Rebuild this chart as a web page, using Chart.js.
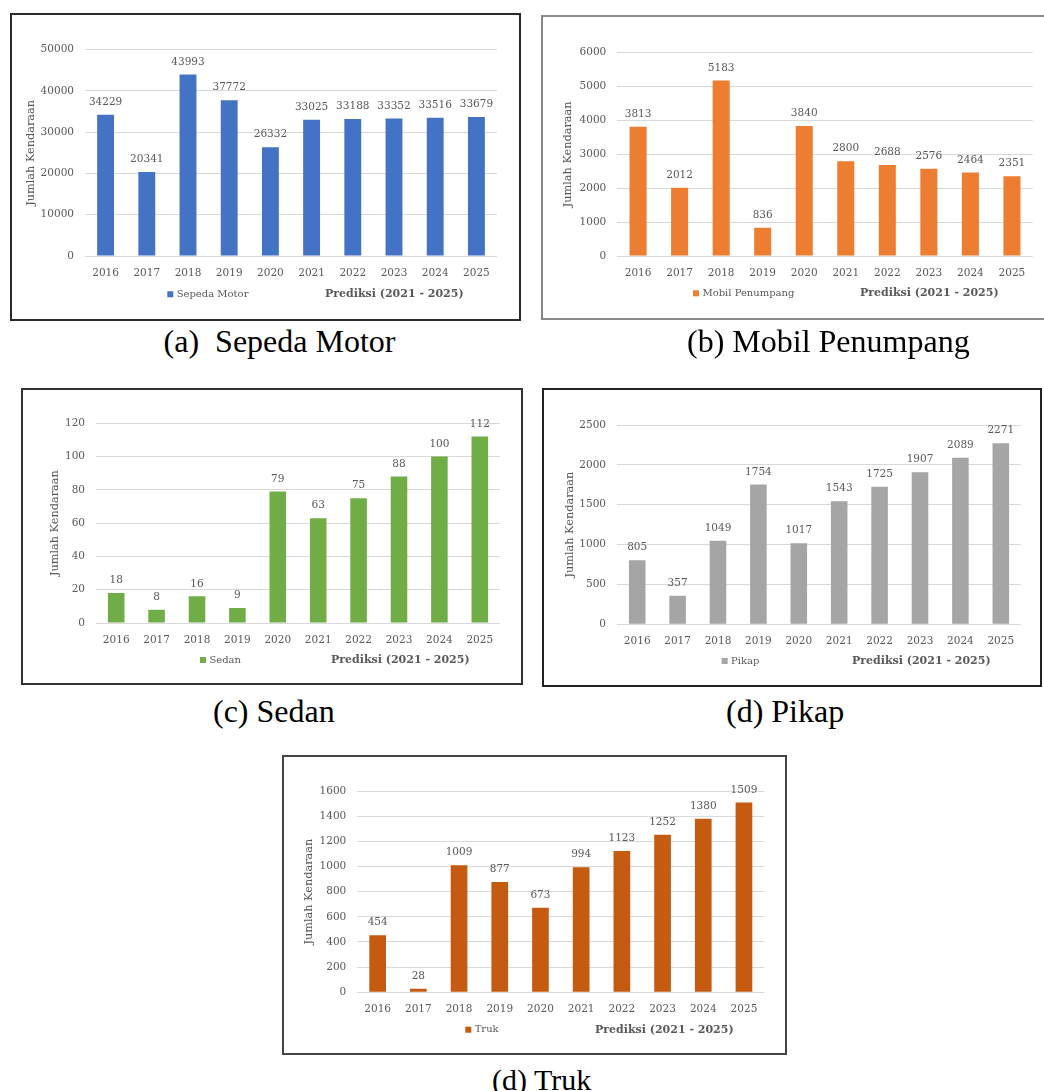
<!DOCTYPE html>
<html>
<head>
<meta charset="utf-8">
<script src="https://cdn.jsdelivr.net/npm/chart.js@4.4.0/dist/chart.umd.min.js"></script>
<style>
  html, body { margin: 0; padding: 0; background: #fff; }
  body { width: 1044px; height: 1091px; position: relative; overflow: hidden; }
  .panel { position: absolute; }
  .panel canvas { position: absolute; left: 0; top: 0; }
  .frame { position: absolute; left: 0; top: 0; box-sizing: border-box; pointer-events: none; }
  .caption { position: absolute; font-family: "Liberation Serif", "Times New Roman", serif; color: #000; white-space: pre; line-height: 1; }
</style>
</head>
<body>
<script>
// Vehicle counts per year (2021-2025 are forecast values)
const years = ['2016', '2017', '2018', '2019', '2020', '2021', '2022', '2023', '2024', '2025'];
const sepedaMotor = [34229, 20341, 43993, 37772, 26332, 33025, 33188, 33352, 33516, 33679];
const mobilPenumpang = [3813, 2012, 5183, 836, 3840, 2800, 2688, 2576, 2464, 2351];
const sedan = [18, 8, 16, 9, 79, 63, 75, 88, 100, 112];
const pikap = [805, 357, 1049, 1754, 1017, 1543, 1725, 1907, 2089, 2271];
const truk = [454, 28, 1009, 877, 673, 994, 1123, 1252, 1380, 1509];

const seriesNames = ['Sepeda Motor', 'Mobil Penumpang', 'Sedan', 'Pikap', 'Truk'];
const seriesValues = [sepedaMotor, mobilPenumpang, sedan, pikap, truk];
const axisMax = [50000, 6000, 120, 2500, 1600];
const axisStep = [10000, 1000, 20, 500, 200];
const captions = ['(a)  Sepeda Motor', '(b) Mobil Penumpang', '(c) Sedan', '(d) Pikap', '(d) Truk'];
const axisTitle = 'Jumlah Kendaraan';
const forecastNote = 'Prediksi (2021 - 2025)';

const barColors = ['#4472C4', '#ED7D31', '#70AD47', '#A5A5A5', '#C55A11'];
const TEXT = '#595959';
const FONT = '"DejaVu Serif", serif';

// Page placement of each panel: frame box [x, y, w, h], plot area [left, right, top, bottom]
const panelLayout = [
  { box: [10, 13, 511, 308],  area: [85, 497, 49.7, 256],      titleX: 30.7,  legendX: 167.3, noteX: 325, legendY: 294.3, frame: '#2b2b2b' },
  { box: [541, 15, 515, 305], area: [617.3, 1032.7, 52.7, 256], titleX: 568.3, legendX: 693,   noteX: 860, legendY: 293.3, frame: '#8a8a8a' },
  { box: [21, 388, 502, 297], area: [96, 500, 423.3, 623],     titleX: 55,    legendX: 200,   noteX: 331, legendY: 660,   frame: '#333333' },
  { box: [542, 388, 500, 299], area: [617, 1021, 425, 624.3],  titleX: 570,   legendX: 721.7, noteX: 852, legendY: 661,   frame: '#222222' },
  { box: [282, 755, 505, 300], area: [357.3, 764.3, 791, 992.3], titleX: 309.3, legendX: 465.3, noteX: 595, legendY: 1029.7, frame: '#444444' }
];
const captionLayout = [
  { x: 163.6, y: 325, size: 32 },
  { x: 687,   y: 325, size: 32 },
  { x: 213,   y: 695, size: 32 },
  { x: 726,   y: 695, size: 32 },
  { x: 492,   y: 1065, size: 30 }
];

// Value printed above every bar
const barValueLabels = {
  id: 'barValueLabels',
  afterDatasetsDraw(chart) {
    const ctx = chart.ctx;
    const ds = chart.data.datasets[0];
    ctx.save();
    ctx.font = '10.5px ' + FONT;
    ctx.fillStyle = TEXT;
    ctx.textAlign = 'center';
    ctx.textBaseline = 'middle';
    chart.getDatasetMeta(0).data.forEach((bar, i) => {
      ctx.fillText(String(ds.data[i]), bar.x, bar.y - 12.6);
    });
    ctx.restore();
  }
};

// Legend swatch + series name, and the bold forecast note on the same row
const legendRow = {
  id: 'legendRow',
  afterDraw(chart, args, opts) {
    const ctx = chart.ctx;
    const ds = chart.data.datasets[0];
    ctx.save();
    ctx.fillStyle = ds.backgroundColor;
    ctx.fillRect(opts.x, opts.y - 3, 6, 6);
    ctx.fillStyle = TEXT;
    ctx.textAlign = 'left';
    ctx.textBaseline = 'middle';
    ctx.font = '10px ' + FONT;
    ctx.fillText(ds.label, opts.x + 9.4, opts.y);
    ctx.font = 'bold 11px ' + FONT;
    ctx.fillText(opts.note, opts.noteX, opts.y);
    ctx.restore();
  }
};

panelLayout.forEach((p, k) => {
  const [bx, by, bw, bh] = p.box;
  const [al, ar, at, ab] = p.area.map((v, j) => v - (j < 2 ? bx : by));
  const titleSize = 11.3;
  const titleHalf = titleSize * 1.2 / 2;
  const padL = (p.titleX - bx) - titleHalf;
  const yWidth = al - padL;
  const xHeight = bh - ab;

  const wrap = document.createElement('div');
  wrap.className = 'panel';
  wrap.style.left = bx + 'px';
  wrap.style.top = by + 'px';
  wrap.style.width = bw + 'px';
  wrap.style.height = bh + 'px';
  const canvas = document.createElement('canvas');
  canvas.width = bw;
  canvas.height = bh;
  canvas.style.width = bw + 'px';
  canvas.style.height = bh + 'px';
  wrap.appendChild(canvas);
  const frame = document.createElement('div');
  frame.className = 'frame';
  frame.style.width = bw + 'px';
  frame.style.height = bh + 'px';
  frame.style.border = '2px solid ' + p.frame;
  wrap.appendChild(frame);
  document.body.appendChild(wrap);

  new Chart(canvas, {
    type: 'bar',
    data: {
      labels: years,
      datasets: [{
        label: seriesNames[k],
        data: seriesValues[k],
        backgroundColor: barColors[k],
        barPercentage: 0.41,
        categoryPercentage: 1
      }]
    },
    options: {
      responsive: false,
      animation: false,
      devicePixelRatio: 1,
      layout: { padding: { left: padL, right: bw - ar, top: at, bottom: 0 } },
      plugins: {
        legend: { display: false },
        tooltip: { enabled: false },
        legendRow: { x: p.legendX - bx, y: p.legendY - by, noteX: p.noteX - bx, note: forecastNote }
      },
      scales: {
        x: {
          grid: { display: false },
          border: { display: false },
          ticks: { color: TEXT, font: { family: FONT, size: 10.5 }, padding: 3, maxRotation: 0, autoSkip: false },
          afterFit(s) { s.height = xHeight; }
        },
        y: {
          min: 0,
          max: axisMax[k],
          ticks: {
            stepSize: axisStep[k],
            color: TEXT,
            font: { family: FONT, size: 10.5 },
            padding: 11,
            callback: (v) => String(v)
          },
          grid: { color: '#d9d9d9', lineWidth: 1, drawTicks: false },
          border: { display: false },
          title: { display: true, text: axisTitle, color: TEXT, font: { family: FONT, size: titleSize }, padding: 0 },
          afterFit(s) { s.width = yWidth; }
        }
      }
    },
    plugins: [barValueLabels, legendRow]
  });
});

captionLayout.forEach((c, k) => {
  const d = document.createElement('div');
  d.className = 'caption';
  d.style.left = c.x + 'px';
  d.style.top = c.y + 'px';
  d.style.fontSize = c.size + 'px';
  d.textContent = captions[k];
  document.body.appendChild(d);
});
</script>
</body>
</html>
